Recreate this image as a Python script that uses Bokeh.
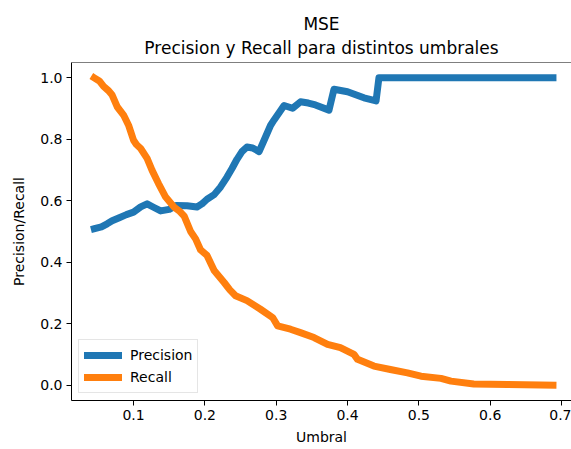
from bokeh.plotting import figure
from bokeh.models import Title, Span, FixedTicker, PrintfTickFormatter, Range1d
from bokeh.embed import file_html
from bokeh.resources import INLINE

# Precision curve (threshold, value)
prec_x = [0.045, 0.055, 0.063, 0.070, 0.080, 0.090, 0.100, 0.110, 0.119, 0.128,
          0.138, 0.150, 0.160, 0.175, 0.189, 0.196, 0.203, 0.213, 0.222, 0.231,
          0.238, 0.245, 0.252, 0.259, 0.267, 0.276, 0.283, 0.292, 0.297, 0.305,
          0.311, 0.323, 0.334, 0.345, 0.355, 0.374, 0.381, 0.400, 0.423, 0.440,
          0.444, 0.688]
prec_y = [0.509, 0.515, 0.525, 0.535, 0.545, 0.555, 0.563, 0.580, 0.590, 0.579,
          0.567, 0.572, 0.585, 0.584, 0.580, 0.590, 0.605, 0.620, 0.645, 0.677,
          0.705, 0.735, 0.760, 0.775, 0.772, 0.760, 0.797, 0.845, 0.863, 0.890,
          0.910, 0.901, 0.922, 0.918, 0.912, 0.895, 0.963, 0.955, 0.935, 0.925,
          1.000, 1.000]

# Recall curve (threshold, value)
rec_x = [0.045, 0.052, 0.058, 0.065, 0.070, 0.077, 0.086, 0.093, 0.096, 0.100,
         0.104, 0.110, 0.119, 0.126, 0.135, 0.145, 0.157, 0.165, 0.171, 0.180,
         0.187, 0.194, 0.203, 0.213, 0.227, 0.235, 0.243, 0.259, 0.278, 0.295,
         0.302, 0.320, 0.334, 0.353, 0.372, 0.390, 0.409, 0.414, 0.437, 0.460,
         0.484, 0.503, 0.531, 0.545, 0.577, 0.624, 0.688]
rec_y = [1.000, 0.990, 0.972, 0.958, 0.944, 0.906, 0.879, 0.846, 0.825, 0.797,
         0.783, 0.770, 0.738, 0.699, 0.656, 0.612, 0.579, 0.565, 0.550, 0.500,
         0.476, 0.440, 0.422, 0.373, 0.334, 0.310, 0.291, 0.275, 0.247, 0.220,
         0.193, 0.182, 0.171, 0.155, 0.133, 0.122, 0.100, 0.084, 0.062, 0.051,
         0.040, 0.029, 0.022, 0.013, 0.004, 0.002, 0.000]

x_ticks = [0.1, 0.2, 0.3, 0.4, 0.5, 0.6, 0.7]
y_ticks = [0.0, 0.2, 0.4, 0.6, 0.8, 1.0]

FONT = "DejaVu Sans"

p = figure(width=571, height=449, output_backend="svg", toolbar_location=None,
           x_range=Range1d(0.013, 0.714), y_range=Range1d(-0.05, 1.05),
           min_border_left=71, min_border_right=0, min_border_top=62,
           min_border_bottom=49)
p.title = None
p.outline_line_color = None
p.xgrid.visible = False
p.ygrid.visible = False
p.background_fill_color = "white"
p.border_fill_color = "white"

p.add_layout(Title(text="Precision y Recall para distintos umbrales", align="center",
                   text_font=FONT, text_font_size="17px", text_font_style="normal",
                   text_color="black", standoff=9), "above")
p.add_layout(Title(text="MSE", align="center", text_font=FONT, text_font_size="17px",
                   text_font_style="normal", text_color="black", standoff=-4), "above")

p.line(prec_x, prec_y, line_color="#1f77b4", line_width=7, line_join="round",
       line_cap="square", legend_label="Precision")
p.line(rec_x, rec_y, line_color="#ff7f0e", line_width=7, line_join="round",
       line_cap="square", legend_label="Recall")

p.add_layout(Span(location=1.05, dimension="width", line_color="black", line_width=1))

for ax in (p.xaxis[0], p.yaxis[0]):
    ax.major_label_text_font = FONT
    ax.major_label_text_font_size = "14px"
    ax.major_label_text_color = "black"
    ax.axis_label_text_font = FONT
    ax.axis_label_text_font_size = "14px"
    ax.axis_label_text_font_style = "normal"
    ax.axis_label_text_color = "black"
    ax.major_tick_in = 0
    ax.major_tick_out = 5
    ax.minor_tick_in = 0
    ax.minor_tick_out = 0
    ax.major_label_standoff = 4
    ax.axis_line_color = "black"
    ax.major_tick_line_color = "black"

p.xaxis.ticker = FixedTicker(ticks=x_ticks)
p.yaxis.ticker = FixedTicker(ticks=y_ticks)
p.xaxis.formatter = PrintfTickFormatter(format="%.1f")
p.yaxis.formatter = PrintfTickFormatter(format="%.1f")
p.xaxis.axis_label = "Umbral"
p.yaxis.axis_label = "Precision/Recall"
p.xaxis.axis_label_standoff = 6
p.yaxis.axis_label_standoff = 10

lg = p.legend[0]
lg.location = "bottom_left"
lg.margin = 7
lg.padding = 5
lg.spacing = 2
lg.glyph_width = 38
lg.glyph_height = 20
lg.label_standoff = 8
lg.label_text_font = FONT
lg.label_text_font_size = "14px"
lg.label_text_color = "black"
lg.border_line_color = "#cccccc"
lg.border_line_width = 1
lg.background_fill_alpha = 0.8

open("out.html", "w").write(file_html(p, INLINE))
